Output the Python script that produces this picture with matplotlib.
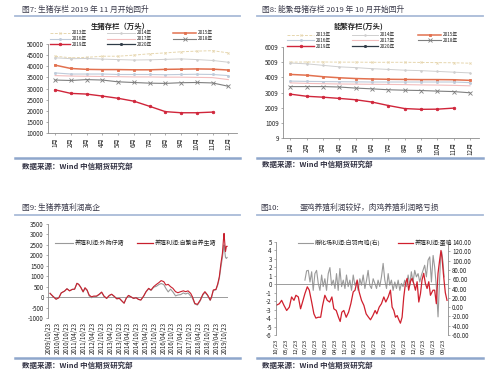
import matplotlib
matplotlib.use("Agg")
import matplotlib.pyplot as plt
from matplotlib.lines import Line2D

plt.rcParams['font.family'] = ['Noto Sans CJK SC', 'DejaVu Sans']
plt.rcParams['axes.unicode_minus'] = False

W, H = 500, 377

# ---------------- data ----------------
months = ["1月", "2月", "3月", "4月", "5月", "6月", "7月", "8月", "9月", "10月", "11月", "12月"]
years = ["2013年", "2014年", "2015年", "2016年", "2017年", "2018年", "2019年", "2020年"]

hog_2013 = [44500, 43800, 44000, 44500, 44500, 45000, 45600, 46000, 46500, 46800, 47000, 46000]
hog_2014 = [43800, 43400, 43500, 43200, 43000, 42800, 42900, 43100, 43300, 43000, 42600, 41800]
hog_2015 = [40500, 39000, 38600, 38500, 38500, 38400, 38400, 38600, 38700, 38800, 38700, 38300]
hog_2016 = [37000, 36500, 36500, 36500, 36300, 36300, 36300, 36200, 36300, 36400, 36300, 35800]
hog_2017 = [35800, 35600, 35500, 35400, 35300, 35200, 35200, 35100, 35100, 35000, 34900, 34000]
hog_2018 = [33800, 33600, 34000, 33800, 33000, 32700, 32400, 32300, 32600, 32700, 32500, 31000]
hog_2019 = [29400, 27800, 27500, 26600, 25600, 24300, 22000, 19600, 19100, 19100, 19400]
hog_2020 = []
hog_ticks = ["10000", "15000", "20000", "25000", "30000", "35000", "40000", "45000", "50000"]

sow_2013 = [5010, 5020, 5020, 5010, 5010, 5000, 5000, 5000, 4990, 4980, 4970, 4940]
sow_2014 = [4950, 4900, 4800, 4700, 4650, 4580, 4530, 4480, 4450, 4400, 4350, 4300]
sow_2015 = [4200, 4150, 4050, 3980, 3930, 3900, 3880, 3870, 3860, 3860, 3850, 3810]
sow_2016 = [3760, 3740, 3730, 3720, 3710, 3700, 3700, 3700, 3700, 3700, 3700, 3660]
sow_2017 = [3640, 3610, 3590, 3570, 3560, 3550, 3540, 3530, 3510, 3500, 3480, 3450]
sow_2018 = [3400, 3400, 3400, 3370, 3300, 3250, 3190, 3160, 3140, 3100, 3070, 2990]
sow_2019 = [2900, 2760, 2700, 2620, 2530, 2380, 2150, 1950, 1900, 1910, 1980]
sow_2020 = []
sow_ticks = ["9", "1009", "2009", "3009", "4009", "5009", "6009"]

# Figure 9: months since 2009/10/23
pig_t = [0.9, 2.7, 5.0, 6.9, 8.5, 10.8, 12.4, 14.2, 16.0, 17.6, 19.2, 20.4, 21.8, 23.4, 24.7,
         26.1, 27.5, 29.1, 30.7, 32.5, 34.4, 36.0, 37.6, 39.4, 41.2, 42.8, 44.4, 46.3, 48.1,
         49.7, 51.3, 52.7, 54.3, 55.9, 57.7, 59.5, 61.1, 62.7, 64.6, 66.2, 68.0, 69.6, 71.4,
         73.3, 74.9, 76.5, 78.3, 79.7, 81.3, 82.9, 84.5, 86.3, 87.9, 89.8, 91.6, 93.2, 94.8,
         96.6, 97.8, 99.4, 101.2, 103.1, 104.9, 106.3, 108.1, 109.9, 110.8, 112.0, 113.8,
         115.0, 116.1, 117.2, 118.2, 118.9, 119.3, 119.8, 120.3, 120.9, 121.4]
pig_self = [180, 50, -100, -30, 200, 290, 400, 300, 370, 380, 660, 610, 470, 260, 450,
            340, 100, 15, 50, 50, 140, 240, 50, -60, 80, 140, 50, -80, -60,
            -180, -290, -60, 80, 15, -60, -30, -110, -140, 50, 260, 420, 340, 500,
            610, 690, 790, 740, 580, 610, 500, 420, 260, 210, 260, 300, 260, 300,
            180, 15, -300, -350, -140, 140, 260, 100, -140, 15, 340, 370,
            630, 980, 1620, 2100, 2750, 3050, 2600, 2180, 2430, 2430]
pig_buy = [180, 50, -100, -30, 200, 290, 400, 300, 370, 380, 660, 610, 470, 240, 420,
           320, 60, -30, 20, 30, 120, 230, 40, -60, 70, 130, 40, -80, -60,
           -180, -290, -60, 80, 15, -60, -30, -110, -140, 50, 250, 400, 320, 470,
           520, 600, 650, 600, 420, 250, 380, 250, 60, 100, 120, 200, 150, 200,
           50, -50, -330, -380, -180, 100, 230, 80, -160, 0, 320, 350,
           580, 900, 1450, 1900, 2300, 2500, 2200, 1900, 1850, 1900]
pig_dates = ["2009/10/23", "2010/04/23", "2010/10/23", "2011/04/23", "2011/10/23",
             "2012/04/23", "2012/10/23", "2013/04/23", "2013/10/23", "2014/04/23",
             "2014/10/23", "2015/04/23", "2015/10/23", "2016/04/23", "2016/10/23",
             "2017/04/23", "2017/10/23", "2018/04/23", "2018/10/23", "2019/04/23",
             "2019/10/23"]

# Figure 10: months since first label
egg_t = [0.0, 2.4, 4.0, 5.7, 7.6, 9.5, 11.1, 12.8, 14.2, 15.9, 17.5, 18.9, 20.6, 22.3, 23.7,
         25.4, 27.0, 28.4, 30.1, 31.8, 33.2, 34.8, 36.5, 38.2, 39.8, 41.2, 42.9, 44.5,
         45.7, 46.9, 48.3, 50.0, 51.7, 53.3, 55.0, 56.3, 57.8, 59.2, 60.9, 62.6, 64.2,
         65.9, 67.3, 69.0, 70.6, 71.8, 73.5, 75.1, 76.8, 78.2, 79.9, 81.5, 82.7, 83.9,
         85.1, 86.3, 87.5, 88.6, 89.8, 91.0, 92.2, 93.4, 94.5, 95.7, 96.9, 98.1, 99.3,
         100.5, 101.7, 102.9, 104.0, 105.2, 106.4, 107.6, 108.8, 110.0, 111.8, 113.0,
         114.2, 115.4, 116.5, 117.5, 118.2, 119.2, 119.9, 120.6, 121.8]
egg_profit = [-2.5, -2.3, -1.9, -2.5, -3.1, -2.7, -1.5, -1.9, -1.3, -1.5, -2.9, -2.1, -1.1,
              -0.3, -0.7, -2.1, -3.5, -4.0, -3.9, -3.9, -2.5, -1.3, -1.9, -2.1, -1.5, -2.9,
              -3.1, -3.9, -4.4, -3.3, -3.1, -3.9, -3.3, -2.3, -0.9, -0.7, 0.5, -0.9, -1.9,
              -2.5, -3.5, -3.9, -4.2, -3.7, -3.1, -3.5, -2.7, -2.3, -1.5, -2.1, -1.5, -0.7,
              -2.7, -3.1, -3.9, -3.7, -4.2, -4.6, -3.9, -1.5, 0.1, 0.7, -0.7, 0.3, 0.7, 0.1,
              -0.7, 0.3, -2.1, -1.1, 0.5, 1.3, 0.1, -0.5, 0.3, -1.3, -0.7, -0.7, -2.3, 1.3,
              2.8, 4.0, 3.2, 1.3, 0.1, -1.0, -1.9]
broiler_t = [20.6, 21.8, 23.0, 24.2, 25.4, 26.5, 27.7, 28.9, 30.1, 31.3, 32.5, 33.6, 34.8,
             36.0, 37.2, 38.4, 39.6, 40.8, 42.0, 43.1, 44.3, 45.5, 46.7, 47.9, 49.1, 50.2,
             51.4, 52.6, 53.8, 55.0, 56.2, 57.3, 58.5, 59.7, 60.9, 62.1, 63.3, 64.5, 65.6,
             66.8, 68.0, 69.2, 70.4, 71.6, 72.7, 73.9, 75.1, 76.3, 77.5, 78.7, 79.9, 81.0,
             82.2, 83.4, 84.6, 85.8, 87.0, 88.2, 89.3, 90.5, 91.7, 92.9, 94.1, 95.3, 96.4,
             97.6, 98.8, 100.0, 101.2, 102.4, 103.6, 104.7, 105.9, 107.1, 108.3, 109.5,
             110.7, 111.9, 113.0, 114.2, 115.4, 116.6, 117.3, 118.0, 118.9, 119.7]
broiler_profit = [58, 78, 79, 54, 76, 36, 72, 79, 51, 36, 69, 44, 61, 36, 72, 85, 47, 58,
                  40, 72, 36, 83, 44, 58, 40, 69, 44, 58, 36, 69, 47, 54, 36, 61, 47, 69,
                  40, 58, 79, 47, 40, 61, 51, 40, 58, 44, 65, 94, 58, 40, 72, 47, 58, 36,
                  54, 40, 58, 36, 51, 44, 58, 44, 69, 47, 76, 54, 79, 65, 72, 54, 69, 79,
                  90, 65, 101, 108, 54, 111, 86, 44, -21, 65, 108, 119, 97, 65]
egg_labels = ["10/23", "05/23", "12/23", "07/23", "02/23", "09/23", "04/23", "11/23",
              "06/23", "01/23", "08/23", "03/23", "10/23", "05/23", "12/23", "07/23",
              "02/23", "09/23"]
right_ticks = ["-60.00", "-40.00", "-20.00", "0.00", "20.00", "40.00", "60.00", "80.00",
               "100.00", "120.00", "140.00"]

# ---------------- helpers ----------------
fig = plt.figure(figsize=(W / 100, H / 100), dpi=100)
fig.patch.set_facecolor("white")


def ax_px(l, t, r, b):
    return fig.add_axes([l / W, 1 - b / H, (r - l) / W, (b - t) / H])


def fx(x):
    return x / W


def fy(y):
    return 1 - y / H


def hline(x0, x1, y, lw=1.5, color="#9DB2D2"):
    fig.add_artist(Line2D([fx(x0), fx(x1)], [fy(y), fy(y)], lw=lw, color=color))


def text_px(x, y, s, **kw):
    fig.text(fx(x), fy(y), s, va="center", **kw)


def legend_entry(x0, x1, y, label, color, lw=0.8, ls="-", marker="", ms=0, fs=4.3):
    xm = (x0 + x1) / 2
    fig.add_artist(Line2D([fx(x0), fx(xm), fx(x1)], [fy(y)] * 3, color=color, lw=lw, ls=ls,
                          marker=marker if marker else None, ms=ms, mew=0.6, markevery=[1]))
    text_px(x1 + 2, y, label, fontsize=fs, color="#222222", ha="left")


TITLE_C = "#3A3A4A"
TICK_FS = 4.5


def style_ax(ax):
    for s in ["top", "right"]:
        ax.spines[s].set_visible(False)
    for s in ["left", "bottom"]:
        ax.spines[s].set_color("#8C8C8C")
        ax.spines[s].set_linewidth(0.6)
    ax.tick_params(labelsize=TICK_FS, length=1.5, width=0.5, color="#8C8C8C", pad=1.5,
                   labelcolor="#222222")
    ax.set_facecolor("none")


# ---------------- panel headers / footers ----------------
text_px(22, 10, "图7: 生猪存栏 2019 年 11 月开始回升", fontsize=5.6, color=TITLE_C)
text_px(262, 10, "图8: 能繁母猪存栏 2019 年 10 月开始回升", fontsize=5.6, color=TITLE_C)
text_px(22, 208, "图9: 生猪养殖利润高企", fontsize=5.6, color=TITLE_C)
text_px(260, 208, "图10:", fontsize=5.6, color=TITLE_C)
text_px(300, 208, "蛋鸡养殖利润较好，肉鸡养殖利润略亏损", fontsize=5.6, color=TITLE_C)
for (x0, x1, y) in [(15, 240, 16), (257, 483, 16), (15, 240, 215), (257, 483, 215)]:
    hline(x0, x1, y, lw=1.3, color="#A9BBD8")
for (x0, x1, y) in [(15, 240, 158), (257, 483, 158), (15, 240, 358), (257, 483, 358)]:
    hline(x0, x1, y, lw=1.8, color="#8FA7CC")
src = "数据来源：Wind 中信期货研究部"
for (x, y) in [(22, 166), (262, 164), (22, 365), (262, 365)]:
    text_px(x, y, src, fontsize=5.4, color="#333344", fontweight="bold")

# ---------------- series styles ----------------
styles = [
    dict(color="#E6D6AE", lw=0.7, ls=(0, (3, 1.5)), marker="x", ms=1.5),
    dict(color="#CFCFCF", lw=0.7, ls="-", marker="o", ms=1.2),
    dict(color="#E2714F", lw=1.1, ls="-", marker="s", ms=1.8),
    dict(color="#BFCBDA", lw=0.8, ls="-", marker="o", ms=1.5),
    dict(color="#F2BDBD", lw=0.8, ls="-", marker="", ms=0),
    dict(color="#7F7F7F", lw=0.8, ls="-", marker="x", ms=2.2),
    dict(color="#D0253A", lw=1.0, ls="-", marker="o", ms=1.8),
    dict(color="#2E3A46", lw=0.9, ls="-", marker="o", ms=1.6),
]


def draw_years(ax, series):
    for i, (lab, vals) in enumerate(zip(years, series)):
        st = styles[i]
        ax.plot(range(len(vals)), vals, color=st["color"], lw=st["lw"], ls=st["ls"],
                marker=st["marker"], ms=st["ms"], mew=0.6, label=lab)


def year_legend(cols, rows):
    for i, lab in enumerate(years):
        r, c = divmod(i, 3)
        x0, x1 = cols[c]
        st = styles[i]
        legend_entry(x0, x1, rows[r], lab, st["color"], lw=st["lw"], ls=st["ls"],
                     marker=st["marker"], ms=st["ms"], fs=3.4)


# ---------------- panel 1 ----------------
ax1 = ax_px(48, 44, 237, 133)
style_ax(ax1)
draw_years(ax1, [hog_2013, hog_2014, hog_2015, hog_2016, hog_2017, hog_2018, hog_2019, hog_2020])
ax1.set_ylim(10000, 50000)
ax1.set_yticks(range(10000, 50001, 5000))
ax1.set_yticklabels(hog_ticks)
ax1.set_xlim(-0.45, 11.55)
ax1.set_xticks(range(12))
ax1.set_xticklabels(months, rotation=90)
year_legend([(50, 70), (107, 135), (173, 196)], [33, 38.5, 44])
text_px(120, 26, "生猪存栏（万头）", fontsize=5.3, color="#222222", ha="center", fontweight="bold")

# ---------------- panel 2 ----------------
ax2 = ax_px(283, 47, 479, 138)
style_ax(ax2)
draw_years(ax2, [sow_2013, sow_2014, sow_2015, sow_2016, sow_2017, sow_2018, sow_2019, sow_2020])
ax2.set_ylim(9, 6009)
ax2.set_yticks(range(9, 6010, 1000))
ax2.set_yticklabels(sow_ticks)
ax2.set_xlim(-0.45, 11.55)
ax2.set_xticks(range(12))
ax2.set_xticklabels(months, rotation=90)
year_legend([(287, 314), (352, 378), (418, 441)], [34.5, 40.3, 46])
text_px(358, 26, "能繁存栏(万头)", fontsize=5.3, color="#222222", ha="center", fontweight="bold")

# ---------------- panel 3 ----------------
ax3 = ax_px(48, 224, 228, 318)
style_ax(ax3)
ax3.spines["bottom"].set_visible(False)
ax3.axhline(0, color="#8C8C8C", lw=0.6)
ax3.plot(pig_t, pig_buy, color="#9A9A9A", lw=0.8)
ax3.plot(pig_t, pig_self, color="#C8202E", lw=0.8)
ax3.set_ylim(-1000, 3500)
ax3.set_yticks(range(-1000, 3501, 500))
ax3.set_xlim(-0.5, 122)
ax3.set_xticks(range(0, 121, 6))
ax3.set_xticklabels(pig_dates, rotation=90, fontsize=4.4)
ax3.tick_params(axis="x", length=0, pad=3)
legend_entry(55, 73, 243, "养殖利润:外购仔猪", "#9A9A9A", lw=0.8, fs=4.3)
legend_entry(137, 153, 243, "养殖利润:自繁自养生猪", "#C8202E", lw=0.9, fs=4.3)

# ---------------- panel 4 ----------------
ax4 = ax_px(276, 242, 448, 335)
style_ax(ax4)
ax4.spines["bottom"].set_visible(False)
ax4.axhline(0, color="#8C8C8C", lw=0.6)
ax4r = ax4.twinx()
for s in ["top", "left", "bottom"]:
    ax4r.spines[s].set_visible(False)
ax4r.spines["right"].set_color("#8C8C8C")
ax4r.spines["right"].set_linewidth(0.6)
ax4r.tick_params(labelsize=TICK_FS, length=1.5, width=0.5, color="#8C8C8C", pad=1.5,
                 labelcolor="#222222")
ax4r.plot(broiler_t, broiler_profit, color="#9A9A9A", lw=0.8)
ax4.plot(egg_t, egg_profit, color="#D0202E", lw=0.9)
ax4.set_zorder(ax4r.get_zorder() + 1)
ax4.patch.set_visible(False)
ax4.set_ylim(-6, 5)
ax4.set_yticks(range(-6, 6))
ax4r.set_ylim(-60, 140)
ax4r.set_yticks(range(-60, 141, 20))
ax4r.set_yticklabels(right_ticks)
ax4.set_xlim(0, 122.5)
ax4.set_xticks(range(0, 120, 7))
ax4.set_xticklabels(egg_labels, rotation=90, fontsize=4.2)
ax4.tick_params(axis="x", length=0, pad=3)
legend_entry(298, 313, 243, "孵化场利润:白羽肉鸡(右)", "#9A9A9A", lw=0.8, fs=4.3)
legend_entry(398, 413, 243, "养殖利润:蛋鸡", "#D0202E", lw=0.9, fs=4.3)

fig.savefig("out.png", dpi=100, facecolor="white")
